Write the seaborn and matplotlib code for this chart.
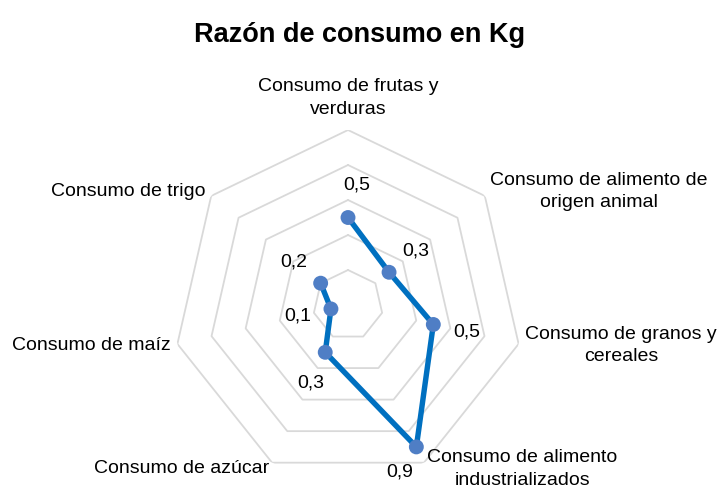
import numpy as np
import pandas as pd
import matplotlib
matplotlib.use("Agg")
import matplotlib.pyplot as plt
import seaborn as sns

# Datos
categorias = ["Consumo de frutas y\nverduras",
              "Consumo de alimento de\norigen animal",
              "Consumo de granos y\ncereales",
              "Consumo de alimento\nindustrializados",
              "Consumo de azúcar",
              "Consumo de maíz",
              "Consumo de trigo"]
valores = [0.5, 0.3, 0.5, 0.9, 0.3, 0.1, 0.2]
etiquetas = ["0,5", "0,3", "0,5", "0,9", "0,3", "0,1", "0,2"]
anillos = [0.2, 0.4, 0.6, 0.8, 1.0]

sns.set_style("white")
plt.rcParams['font.family'] = ['Liberation Sans Narrow', 'DejaVu Sans Condensed',
                               'Liberation Sans', 'DejaVu Sans']
plt.rcParams['text.color'] = 'black'

n = len(categorias)
angulos = np.linspace(0, 2 * np.pi, n, endpoint=False)

fig = plt.figure(figsize=(7.2, 4.91), dpi=100)
ax = fig.add_axes([0.2403, 0.0224, 0.4861, 0.7128], projection='polar')
ax.set_theta_zero_location('N')
ax.set_theta_direction(-1)
ax.set_ylim(0, 1)
ax.grid(False)
ax.spines['polar'].set_visible(False)
ax.set_xticks([])
ax.set_yticks([])
ax.patch.set_alpha(0)

# anillos heptagonales
ang_c = np.append(angulos, angulos[0])
for r in anillos:
    ax.plot(ang_c, [r] * len(ang_c), color='#D9D9D9', lw=1.3, zorder=1)

# serie
df = pd.DataFrame({'ang': np.append(angulos, angulos[0]),
                   'val': valores + [valores[0]]})
sns.lineplot(data=df, x='ang', y='val', sort=False, ax=ax, color='#0070C0',
             lw=3.9, zorder=3)
ax.scatter(angulos, valores, s=115, color='#4F7EC5', zorder=4, edgecolors='none')
ax.set_xlabel('')
ax.set_ylabel('')

# etiquetas de datos
for i, (a, v, t) in enumerate(zip(angulos, valores, etiquetas)):
    dx, dy = 34 * np.sin(a), 34 * np.cos(a)
    if i == 0:
        dx, dy = 9, 33
    if i == 3:
        dx, dy = -17, -25
    ax.annotate(t, (a, v), xytext=(dx * 0.72, dy * 0.72), textcoords='offset points',
                ha='center', va='center', fontsize=14, color='black', zorder=5)

# etiquetas de categorias
for i, (a, c) in enumerate(zip(angulos, categorias)):
    s = np.sin(a)
    kw = dict(fontsize=14, multialignment='center', color='black', linespacing=1.45)
    if abs(s) < 0.1:
        ax.text(a, 1.07, c, ha='center', va='bottom', **kw)
    elif s > 0:
        ax.text(a, 1.04, c, ha='left', va='center', **kw)
    else:
        ax.text(a, 1.04, c, ha='right', va='center', **kw)

fig.text(0.5, 0.928, "Razón de consumo en Kg", ha='center', va='center',
         fontsize=19.5, fontweight='bold', color='black')

fig.savefig('out.png', dpi=100)
